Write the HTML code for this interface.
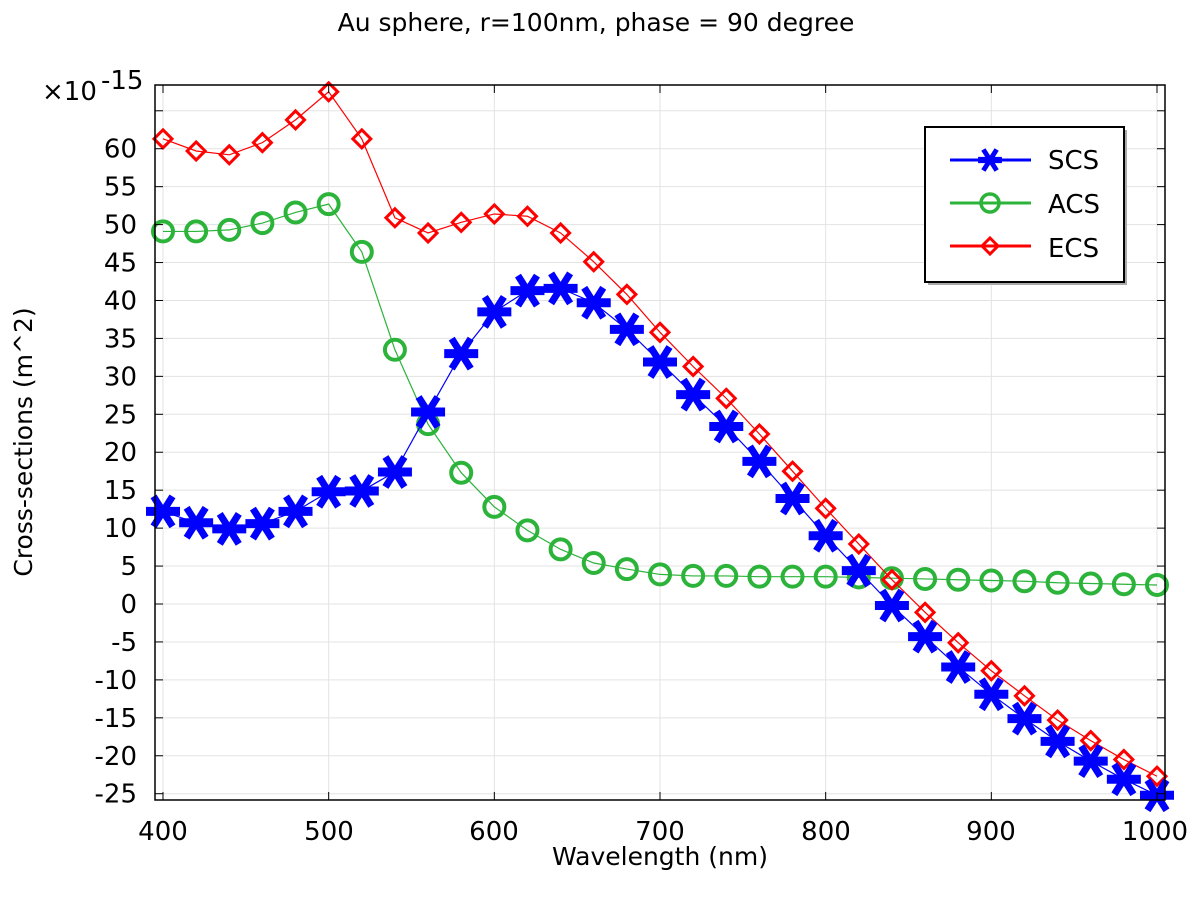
<!DOCTYPE html>
<html><head><meta charset="utf-8"><style>
body{margin:0;background:#fff;}
svg text{font-family:"DejaVu Sans","Liberation Sans",sans-serif;fill:#000;}
</style></head><body>
<svg id="s" width="1200" height="900" xmlns="http://www.w3.org/2000/svg">
<rect width="1200" height="900" fill="#fff"/>
<g id="grid" stroke="#e3e3e3" stroke-width="1"></g>
<text x="596" y="31" font-size="25" text-anchor="middle">Au sphere, r=100nm, phase = 90 degree</text>
<text x="42" y="100" font-size="26">×10</text><text x="101" y="89" font-size="26">-15</text>
<g id="ylab" font-size="26" text-anchor="end"></g>
<g font-size="26" text-anchor="middle">
<text x="163" y="840">400</text><text x="329" y="840">500</text><text x="494" y="840">600</text><text x="660" y="840">700</text><text x="826" y="840">800</text><text x="991" y="840">900</text><text x="1155" y="840">1000</text>
</g>
<text x="660" y="865" font-size="25" text-anchor="middle">Wavelength (nm)</text>
<text transform="translate(32,442) rotate(-90)" font-size="25" text-anchor="middle">Cross-sections (m^2)</text>
<g id="data"></g>
<rect x="155" y="85" width="1010" height="715" fill="none" stroke="#000" stroke-width="1.5"/>
<g id="ticks" stroke="#000" stroke-width="1"></g>
<rect x="928" y="130" width="199" height="155" fill="#aaa"/>
<rect x="925" y="127" width="199" height="155" fill="#fff" stroke="#000" stroke-width="2"/>
<g id="leg"></g>
<g font-size="26"><text x="1048" y="169">SCS</text><text x="1048" y="213">ACS</text><text x="1048" y="257">ECS</text></g>
</svg>
<script>
const NS="http://www.w3.org/2000/svg";
function X(w){return 163+(w-400)*994/600;}
function Y(v){return 604-v*7.588;}
function el(p,t,a){const e=document.createElementNS(NS,t);for(const k in a)e.setAttribute(k,a[k]);document.getElementById(p).appendChild(e);return e;}
for(let v=-25;v<=65;v+=5){el('grid','line',{x1:155,x2:1165,y1:Y(v),y2:Y(v)});
 el('ticks','line',{x1:155,x2:163,y1:Y(v),y2:Y(v)});el('ticks','line',{x1:1157,x2:1165,y1:Y(v),y2:Y(v)});
 if(v<=60){const t=el('ylab','text',{x:137,y:Y(v)+9});t.textContent=v;}}
for(let w=400;w<=1000;w+=100){el('grid','line',{x1:X(w),x2:X(w),y1:85,y2:800});
 el('ticks','line',{x1:X(w),x2:X(w),y1:85,y2:93});el('ticks','line',{x1:X(w),x2:X(w),y1:792,y2:800});}
const scs=[12.2,10.7,9.9,10.6,12.2,14.8,14.9,17.4,25.3,33,38.5,41.3,41.6,39.7,36.2,31.9,27.6,23.4,18.8,13.9,9.0,4.4,-0.2,-4.3,-8.3,-11.9,-15.1,-18.1,-20.7,-23.1,-25.2];
const acs=[49.1,49.1,49.3,50.2,51.6,52.7,46.4,33.5,23.7,17.3,12.8,9.7,7.2,5.4,4.6,3.9,3.7,3.7,3.6,3.6,3.6,3.5,3.4,3.3,3.2,3.1,3.0,2.8,2.7,2.6,2.5];
const ecs=[61.3,59.7,59.2,60.8,63.8,67.5,61.3,50.9,48.9,50.3,51.4,51.1,48.9,45.1,40.8,35.8,31.3,27.1,22.4,17.5,12.6,7.9,3.2,-1.1,-5.1,-8.8,-12.1,-15.3,-18.0,-20.5,-22.7];
function star(g,x,y,s,c){
 el(g,'path',{d:`M${x-17*s} ${y}H${x+17*s}`,stroke:c,'stroke-width':9*s,fill:'none'});
 el(g,'path',{d:`M${x-9.5*s} ${y-15*s}L${x+9.5*s} ${y+15*s}M${x-9.5*s} ${y+15*s}L${x+9.5*s} ${y-15*s}`,stroke:c,'stroke-width':7*s,fill:'none'});}
function diam(g,x,y,r,c){el(g,'path',{d:`M${x} ${y-r}L${x+r} ${y}L${x} ${y+r}L${x-r} ${y}Z`,stroke:c,'stroke-width':3,fill:'none'});}
function series(d,c,m){el('data','polyline',{points:d.map((v,i)=>X(400+20*i)+','+Y(v)).join(' '),stroke:c,'stroke-width':1.2,fill:'none'});
 d.forEach((v,i)=>{const x=X(400+20*i),y=Y(v);
 if(m==0)star('data',x,y,1,c);else if(m==1)el('data','circle',{cx:x,cy:y,r:10,stroke:c,'stroke-width':4,fill:'none'});else diam('data',x,y,9,c);});}
series(acs,'#2bb33a',1);series(ecs,'#f00',2);series(scs,'#0000ff',0);
el('leg','line',{x1:950,x2:1031,y1:160,y2:160,stroke:'#0000ff','stroke-width':3});star('leg',990,160,0.7,'#0000ff');
el('leg','line',{x1:950,x2:1031,y1:203,y2:203,stroke:'#2bb33a','stroke-width':3});el('leg','circle',{cx:990,cy:203,r:9,stroke:'#2bb33a','stroke-width':3.5,fill:'none'});
el('leg','line',{x1:950,x2:1031,y1:246,y2:246,stroke:'#f00','stroke-width':3});diam('leg',990,246,8,'#f00');
</script>
</body></html>
